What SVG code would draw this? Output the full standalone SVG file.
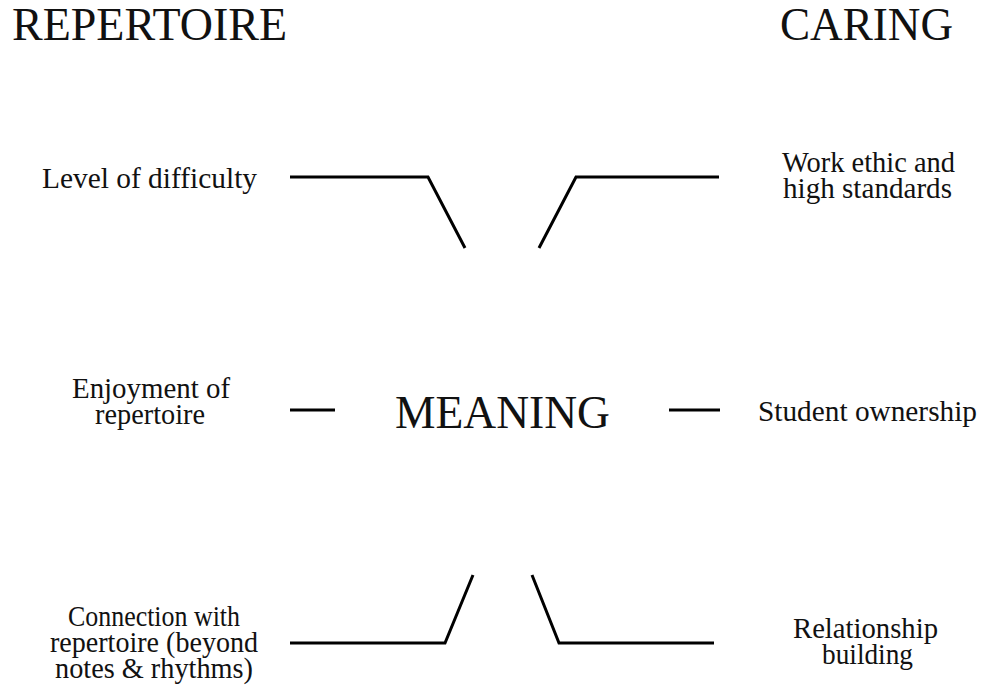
<svg xmlns="http://www.w3.org/2000/svg" width="982" height="690" viewBox="0 0 982 690">
<style>
.t{font-family:"Liberation Serif","Times New Roman",serif;fill:#111;}
.h{font-size:46px;}
.m{font-size:47px;}
.s{font-size:29px;}
.c{fill:none;stroke:#000;stroke-width:3;stroke-linejoin:miter;}
</style>
<rect width="982" height="690" fill="#fff"/>
<g id="header-repertoire"><text class="t h" x="12" y="40" textLength="275" lengthAdjust="spacingAndGlyphs">REPERTOIRE</text></g>
<g id="header-caring"><text class="t h" x="780" y="40" textLength="173" lengthAdjust="spacingAndGlyphs">CARING</text></g>
<g id="meaning"><text class="t m" x="395" y="428" textLength="215" lengthAdjust="spacingAndGlyphs">MEANING</text></g>
<g id="level"><text class="t s" x="42" y="188" textLength="215" lengthAdjust="spacingAndGlyphs">Level of difficulty</text></g>
<g id="work-ethic">
<text class="t s" x="782" y="172" textLength="173" lengthAdjust="spacingAndGlyphs">Work ethic and</text>
<text class="t s" x="783" y="198" textLength="169" lengthAdjust="spacingAndGlyphs">high standards</text>
</g>
<g id="enjoyment">
<text class="t s" x="72" y="398" textLength="158" lengthAdjust="spacingAndGlyphs">Enjoyment of</text>
<text class="t s" x="95" y="424" textLength="110" lengthAdjust="spacingAndGlyphs">repertoire</text>
</g>
<g id="ownership"><text class="t s" x="758" y="421" textLength="219" lengthAdjust="spacingAndGlyphs">Student ownership</text></g>
<g id="connection">
<text class="t s" x="68" y="626" textLength="172" lengthAdjust="spacingAndGlyphs">Connection with</text>
<text class="t s" x="50" y="652" textLength="208" lengthAdjust="spacingAndGlyphs">repertoire (beyond</text>
<text class="t s" x="55" y="678" textLength="198" lengthAdjust="spacingAndGlyphs">notes &amp; rhythms)</text>
</g>
<g id="relationship">
<text class="t s" x="793" y="638" textLength="145" lengthAdjust="spacingAndGlyphs">Relationship</text>
<text class="t s" x="822" y="664" textLength="91" lengthAdjust="spacingAndGlyphs">building</text>
</g>
<g id="connectors">
<polyline class="c" points="290,177 428,177 465,248"/>
<polyline class="c" points="539,248 576,177 719,177"/>
<line class="c" x1="290" y1="410" x2="335" y2="410"/>
<line class="c" x1="669" y1="410" x2="720" y2="410"/>
<polyline class="c" points="290,643 445,643 473,575"/>
<polyline class="c" points="532,575 559,643 714,643"/>
</g>
</svg>
